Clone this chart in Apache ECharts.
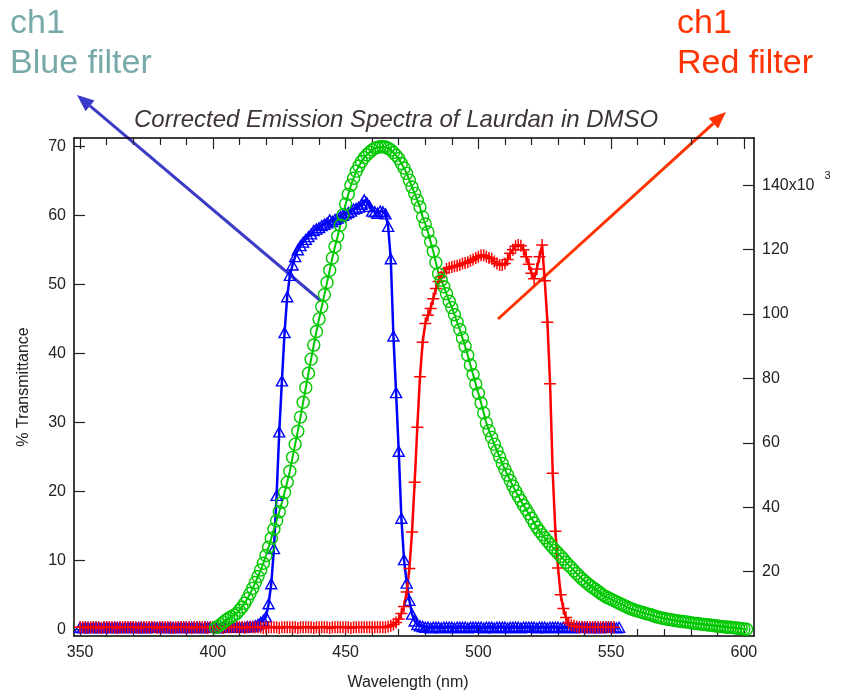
<!DOCTYPE html>
<html>
<head>
<meta charset="utf-8">
<script src="https://cdn.jsdelivr.net/npm/echarts@6/dist/echarts.min.js"></script>
<style>
  html, body { margin: 0; padding: 0; background: #fff; }
  #chart { width: 841px; height: 693px; }
</style>
</head>
<body>
<div id="chart"></div>
<script>
// wavelengths start here and step by 1 nm
const blueStart = 350;
const redStart = 350;
const greenStart = 401;

// % transmittance, blue filter (350..553 nm)
const blueTransmittance = [
  0.3, 0.2, 0.3, 0.3, 0.2, 0.3, 0.3, 0.3, 0.2, 0.3,
  0.3, 0.3, 0.2, 0.3, 0.3, 0.3, 0.2, 0.3, 0.3, 0.3,
  0.3, 0.2, 0.3, 0.3, 0.3, 0.2, 0.3, 0.3, 0.3, 0.3,
  0.3, 0.3, 0.2, 0.3, 0.3, 0.3, 0.2, 0.3, 0.3, 0.3,
  0.3, 0.2, 0.3, 0.3, 0.3, 0.3, 0.2, 0.3, 0.3, 0.3,
  0.3, 0.3, 0.2, 0.3, 0.3, 0.3, 0.3, 0.3, 0.3, 0.3,
  0.3, 0.3, 0.3, 0.4, 0.4, 0.4, 0.5, 0.7, 1.0, 1.3,
  1.8, 3.7, 6.6, 11.7, 19.4, 28.6, 36.0, 43.0, 48.2, 51.3,
  52.8, 54.0, 55.0, 55.6, 56.1, 56.5, 56.9, 57.3, 57.8, 58.0,
  58.2, 58.5, 58.7, 58.9, 59.3, 59.1, 59.4, 59.6, 59.8, 60.0,
  60.2, 60.4, 60.6, 60.9, 61.0, 61.2, 61.6, 62.2, 61.8, 61.3,
  60.6, 60.5, 60.3, 60.6, 60.5, 60.2, 58.4, 53.7, 42.5, 34.3,
  25.8, 16.1, 10.1, 6.7, 4.2, 2.2, 1.2, 0.7, 0.5, 0.4,
  0.3, 0.3, 0.2, 0.3, 0.3, 0.3, 0.2, 0.3, 0.3, 0.3,
  0.3, 0.2, 0.3, 0.3, 0.3, 0.3, 0.2, 0.3, 0.3, 0.3,
  0.3, 0.3, 0.2, 0.3, 0.3, 0.3, 0.2, 0.3, 0.3, 0.3,
  0.3, 0.2, 0.3, 0.3, 0.3, 0.3, 0.2, 0.3, 0.3, 0.3,
  0.3, 0.3, 0.2, 0.3, 0.3, 0.3, 0.2, 0.3, 0.3, 0.3,
  0.3, 0.2, 0.3, 0.3, 0.3, 0.3, 0.2, 0.3, 0.3, 0.3,
  0.3, 0.3, 0.2, 0.3, 0.3, 0.3, 0.2, 0.3, 0.3, 0.3,
  0.3, 0.3, 0.2, 0.3
];

// % transmittance, red filter (350..551 nm)
const redTransmittance = [
  0.3, 0.3, 0.3, 0.2, 0.3, 0.3, 0.3, 0.3, 0.2, 0.3,
  0.3, 0.3, 0.3, 0.3, 0.2, 0.3, 0.3, 0.3, 0.3, 0.3,
  0.3, 0.3, 0.2, 0.3, 0.3, 0.3, 0.3, 0.3, 0.3, 0.2,
  0.3, 0.3, 0.3, 0.3, 0.3, 0.2, 0.3, 0.3, 0.3, 0.3,
  0.3, 0.3, 0.2, 0.3, 0.3, 0.3, 0.3, 0.3, 0.2, 0.3,
  0.3, 0.3, 0.3, 0.3, 0.2, 0.3, 0.3, 0.3, 0.3, 0.3,
  0.3, 0.3, 0.2, 0.3, 0.3, 0.3, 0.3, 0.3, 0.3, 0.2,
  0.3, 0.3, 0.3, 0.3, 0.3, 0.2, 0.3, 0.3, 0.3, 0.3,
  0.3, 0.3, 0.2, 0.3, 0.3, 0.3, 0.3, 0.3, 0.2, 0.3,
  0.3, 0.3, 0.3, 0.3, 0.2, 0.3, 0.3, 0.3, 0.3, 0.3,
  0.3, 0.3, 0.2, 0.3, 0.3, 0.3, 0.3, 0.3, 0.3, 0.3,
  0.3, 0.3, 0.3, 0.3, 0.3, 0.3, 0.4, 0.5, 0.7, 1.0,
  1.5, 2.3, 3.3, 5.4, 8.8, 14.1, 21.3, 29.3, 36.6, 41.6,
  44.3, 45.5, 46.5, 47.9, 49.4, 50.4, 51.1, 51.7, 52.2, 52.4,
  52.5, 52.6, 52.7, 52.8, 53.0, 53.1, 53.2, 53.4, 53.6, 53.8,
  54.0, 54.2, 54.2, 54.0, 53.8, 53.7, 53.3, 53.0, 52.8, 52.8,
  53.0, 53.6, 54.5, 55.0, 55.5, 55.7, 55.6, 55.0, 54.0, 52.9,
  51.6, 50.8, 52.2, 54.0, 55.7, 50.5, 44.5, 35.6, 22.6, 14.2,
  8.9, 5.0, 3.0, 1.7, 0.9, 0.6, 0.5, 0.4, 0.3, 0.3,
  0.3, 0.3, 0.3, 0.3, 0.3, 0.3, 0.3, 0.3, 0.3, 0.3,
  0.3, 0.3
];

// Laurdan fluorescence, x10^3 au (401..601 nm)
const greenFluorescence = [
  2.6, 3.0, 3.6, 4.3, 5.0, 5.5, 6.0, 6.5, 7.0, 8.0,
  9.0, 10.2, 11.6, 13.2, 14.8, 16.6, 18.5, 20.5, 22.6, 25.0,
  27.6, 30.4, 33.2, 35.8, 38.6, 41.5, 44.6, 47.8, 51.2, 55.5,
  59.6, 63.6, 68.0, 72.6, 77.2, 81.6, 86.0, 90.4, 94.6, 98.5,
  102.3, 106.0, 109.8, 113.6, 117.4, 121.0, 124.2, 127.6, 130.8, 134.2,
  137.2, 140.0, 142.2, 144.4, 146.0, 147.4, 148.6, 149.5, 150.3, 151.0,
  151.5, 151.8, 152.0, 152.0, 151.9, 151.5, 151.0, 150.2, 149.3, 148.3,
  146.8, 145.4, 143.7, 141.6, 139.5, 137.5, 135.4, 133.3, 130.2, 128.0,
  125.5, 122.5, 119.5, 116.0, 112.5, 110.5, 108.5, 106.3, 104.0, 102.0,
  99.8, 97.5, 95.2, 92.6, 90.0, 87.2, 84.2, 81.2, 78.3, 75.4,
  72.4, 69.3, 66.2, 63.8, 61.7, 59.6, 57.6, 55.6, 53.6, 51.7,
  50.0, 48.3, 46.6, 45.0, 43.5, 42.1, 40.6, 39.3, 38.0, 36.6,
  35.1, 33.8, 32.6, 31.5, 30.5, 29.5, 28.5, 27.5, 26.6, 25.7,
  24.8, 23.9, 22.9, 22.0, 21.2, 20.3, 19.4, 18.6, 17.8, 17.1,
  16.4, 15.7, 15.1, 14.5, 13.9, 13.3, 12.7, 12.2, 11.8, 11.4,
  11.0, 10.6, 10.2, 9.8, 9.4, 9.0, 8.6, 8.3, 8.0, 7.8,
  7.5, 7.3, 7.0, 6.8, 6.6, 6.3, 6.0, 5.8, 5.6, 5.4,
  5.3, 5.1, 5.0, 4.8, 4.7, 4.6, 4.5, 4.4, 4.3, 4.1,
  4.0, 3.9, 3.8, 3.7, 3.6, 3.5, 3.4, 3.3, 3.2, 3.1,
  3.0, 2.9, 2.8, 2.7, 2.7, 2.6, 2.5, 2.4, 2.3, 2.2,
  2.1
];

const xMajorTicks = [350, 400, 450, 500, 550, 600];
const xMinorTicks = [360, 370, 380, 390, 410, 420, 430, 440, 460, 470, 480, 490,
  510, 520, 530, 540, 560, 570, 580, 590];
const leftTicks = [0, 10, 20, 30, 40, 50, 60, 70];
const rightTicks = [20, 40, 60, 80, 100, 120, 140];

const FONT = "'Liberation Sans', Arial, sans-serif";
const chart = echarts.init(document.getElementById('chart'));

function toPairs(start, values) {
  return values.map((v, i) => [start + i, v]);
}

// annotation arrow (line + filled head), pixel coords
function arrow(tail, tip, color) {
  let dx = tip[0] - tail[0], dy = tip[1] - tail[1];
  let len = Math.sqrt(dx * dx + dy * dy);
  let ux = dx / len, uy = dy / len;
  let bx = tip[0] - ux * 17, by = tip[1] - uy * 17;
  return [
    {type: 'line', shape: {x1: tail[0], y1: tail[1], x2: bx, y2: by},
      style: {stroke: color, lineWidth: 3}},
    {type: 'polygon', shape: {points: [tip, [bx - uy * 7, by + ux * 7], [bx + uy * 7, by - ux * 7]]},
      style: {fill: color}}
  ];
}

function xAxisCfg(position, ticks, len, showLine, showLabel) {
  return {
    type: 'value', position: position, min: 347.7, max: 603.8,
    axisLine: {show: showLine, onZero: false, lineStyle: {color: '#000', width: 1.5}},
    axisTick: {show: true, inside: true, length: len, customValues: ticks,
      lineStyle: {color: '#222', width: 1.2}},
    axisLabel: {show: showLabel, customValues: ticks, margin: 9,
      color: '#222', fontSize: 16, fontFamily: FONT},
    splitLine: {show: false}
  };
}

let option = {
  animation: false,
  backgroundColor: '#fff',
  title: {
    text: 'Corrected Emission Spectra of Laurdan in DMSO',
    left: 129, top: 103,
    textStyle: {fontSize: 24, fontStyle: 'italic', fontWeight: 'normal', color: '#3d3535', fontFamily: FONT}
  },
  grid: {left: 74, right: 87, top: 138, bottom: 57, outerBoundsMode: 'none', containLabel: false},
  xAxis: [
    Object.assign(xAxisCfg('bottom', xMajorTicks, 11, true, true), {
      name: 'Wavelength (nm)', nameLocation: 'middle', nameGap: 39,
      nameTextStyle: {fontSize: 16, color: '#222', fontFamily: FONT, padding: [0, 12, 0, 0]}
    }),
    xAxisCfg('bottom', xMinorTicks, 7, false, false),
    xAxisCfg('top', xMajorTicks, 11, true, false),
    xAxisCfg('top', xMinorTicks, 7, false, false)
  ],
  yAxis: [
    {
      type: 'value', position: 'left', min: -0.97, max: 71.2,
      name: '% Transmittance', nameLocation: 'middle', nameGap: 42,
      nameTextStyle: {fontSize: 16, color: '#222', fontFamily: FONT},
      axisLine: {show: true, onZero: false, lineStyle: {color: '#000', width: 1.5}},
      axisTick: {show: true, inside: true, length: 11, customValues: leftTicks,
        lineStyle: {color: '#222', width: 1.2}},
      axisLabel: {customValues: leftTicks, margin: 8, color: '#222', fontSize: 16, fontFamily: FONT},
      splitLine: {show: false}
    },
    {
      type: 'value', position: 'right', min: 0, max: 154.7,
      name: 'Fluorescence (au)', nameLocation: 'middle', nameGap: 67, nameRotate: -90,
      nameTextStyle: {fontSize: 16, color: '#222', fontFamily: FONT},
      axisLine: {show: true, onZero: false, lineStyle: {color: '#000', width: 1.5}},
      axisTick: {show: true, inside: true, length: 11, customValues: rightTicks,
        lineStyle: {color: '#222', width: 1.2}},
      axisLabel: {
        customValues: rightTicks, margin: 8, color: '#222', fontSize: 16, fontFamily: FONT,
        formatter: v => v === 140 ? '140x10{sup|3}' : String(v),
        rich: {sup: {fontSize: 11, color: '#222', fontFamily: FONT, padding: [0, 0, 18, 10]}}
      },
      splitLine: {show: false}
    }
  ],
  series: [
    {
      name: 'Blue filter', type: 'line', xAxisIndex: 0, yAxisIndex: 0,
      data: toPairs(blueStart, blueTransmittance),
      symbol: 'triangle', symbolSize: [11, 10],
      lineStyle: {color: '#0000ff', width: 2.5},
      itemStyle: {color: 'rgba(0,0,0,0)', borderColor: '#0000ff', borderWidth: 1.4}
    },
    {
      name: 'Red filter', type: 'line', xAxisIndex: 0, yAxisIndex: 0,
      data: toPairs(redStart, redTransmittance),
      symbol: 'path://M0,5L10,5M5,0L5,10', symbolSize: 12,
      lineStyle: {color: '#ff0000', width: 2.5},
      itemStyle: {color: 'rgba(0,0,0,0)', borderColor: '#ff0000', borderWidth: 1.5}
    },
    {
      name: 'Laurdan', type: 'line', xAxisIndex: 0, yAxisIndex: 1,
      data: toPairs(greenStart, greenFluorescence),
      symbol: 'circle', symbolSize: 12,
      lineStyle: {color: '#00c800', width: 2},
      itemStyle: {color: 'rgba(0,0,0,0)', borderColor: '#00c800', borderWidth: 1.4}
    }
  ],
  graphic: [
    {type: 'text', left: 10, top: 7, style: {text: 'ch1', fontSize: 34, fill: '#78a9a9', fontFamily: FONT}},
    {type: 'text', left: 10, top: 47, style: {text: 'Blue filter', fontSize: 34, fill: '#78a9a9', fontFamily: FONT}},
    {type: 'text', left: 677, top: 7, style: {text: 'ch1', fontSize: 34, fill: '#ff3300', fontFamily: FONT}},
    {type: 'text', left: 677, top: 47, style: {text: 'Red filter', fontSize: 34, fill: '#ff3300', fontFamily: FONT}}
  ].concat(arrow([321, 301], [77, 95], '#3b3bc8'), arrow([498, 319], [726, 112], '#ff3300'))
};

chart.setOption(option);
</script>
</body>
</html>
